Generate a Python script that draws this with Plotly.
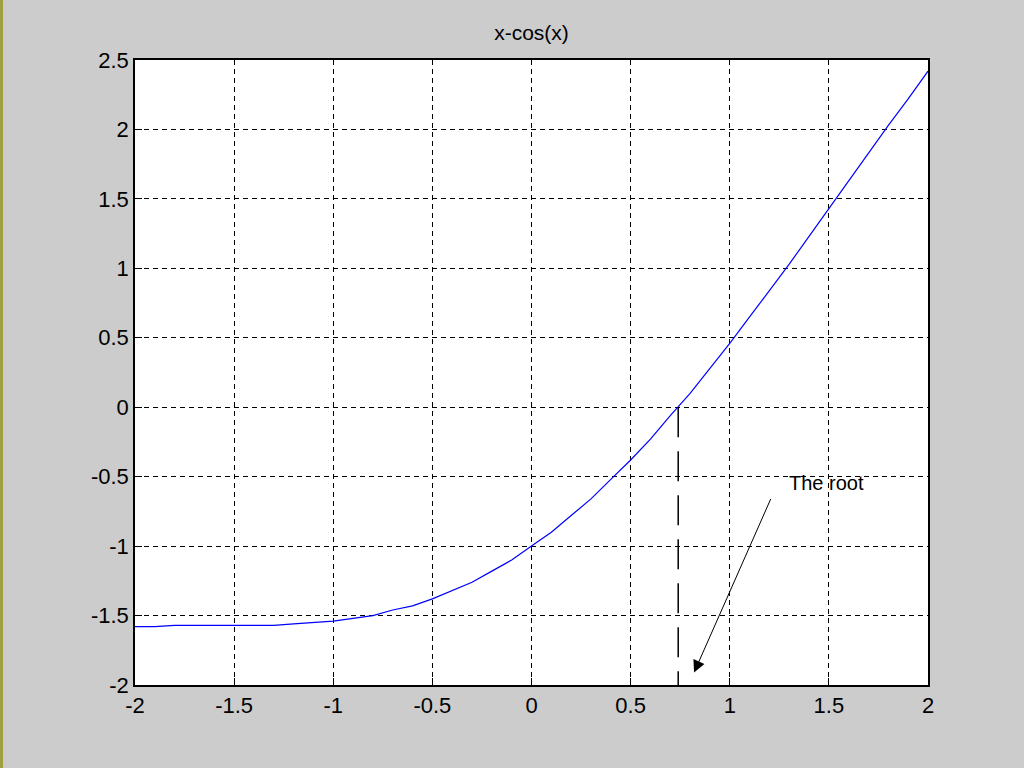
import plotly.graph_objects as go

# Values
x_vals = [-2.0, -1.9, -1.8, -1.7, -1.6, -1.5, -1.4, -1.3, -1.2, -1.1, -1.0,
          -0.9, -0.8, -0.7, -0.6, -0.5, -0.4, -0.3, -0.2, -0.1, 0.0,
          0.1, 0.2, 0.3, 0.4, 0.5, 0.6, 0.7, 0.8, 0.9, 1.0,
          1.1, 1.2, 1.3, 1.4, 1.5, 1.6, 1.7, 1.8, 1.9, 2.0]
y_vals = [-1.58, -1.58, -1.57, -1.57, -1.57, -1.57, -1.57, -1.57, -1.56, -1.55, -1.54,
          -1.52, -1.50, -1.46, -1.43, -1.38, -1.32, -1.26, -1.18, -1.10, -1.00,
          -0.90, -0.78, -0.66, -0.52, -0.38, -0.23, -0.06, 0.10, 0.28, 0.46,
          0.65, 0.84, 1.03, 1.23, 1.43, 1.63, 1.83, 2.03, 2.22, 2.42]

root_x = 0.74
root_line_y = [0.0, -2.0]
arrow_tail = (1.21, -0.65)
arrow_head = (0.82, -1.91)
label_text = "The root"
label_pos = (1.29, -0.545)

x_ticks = [-2, -1.5, -1, -0.5, 0, 0.5, 1, 1.5, 2]
x_ticklabels = ["-2", "-1.5", "-1", "-0.5", "0", "0.5", "1", "1.5", "2"]
y_ticks = [-2, -1.5, -1, -0.5, 0, 0.5, 1, 1.5, 2, 2.5]
y_ticklabels = ["-2", "-1.5", "-1", "-0.5", "0", "0.5", "1", "1.5", "2", "2.5"]

font_family = "Liberation Sans, Arial, sans-serif"

fig = go.Figure()
fig.add_trace(go.Scatter(x=x_vals, y=y_vals, mode="lines",
                         line=dict(color="#0000ff", width=1.2),
                         showlegend=False, hoverinfo="skip"))
fig.add_trace(go.Scatter(x=[root_x, root_x], y=root_line_y, mode="lines",
                         line=dict(color="black", width=1.5, dash="30px,14px"),
                         showlegend=False, hoverinfo="skip"))

fig.add_annotation(x=arrow_head[0], y=arrow_head[1], ax=arrow_tail[0], ay=arrow_tail[1],
                   xref="x", yref="y", axref="x", ayref="y",
                   showarrow=True, arrowhead=2, arrowsize=2.4, arrowwidth=1,
                   arrowcolor="black", text="")
fig.add_annotation(x=label_pos[0], y=label_pos[1], xref="x", yref="y",
                   text=label_text, showarrow=False, xanchor="left", yanchor="middle",
                   font=dict(family=font_family, size=20, color="black"))

# olive strip on the left edge of the slide
fig.add_shape(type="rect", xref="paper", yref="paper",
              x0=-135/793, x1=-132/793, y0=-83/625, y1=(625+60)/625,
              fillcolor="#a0a040", line=dict(width=0), layer="below")

axis_common = dict(showline=True, linecolor="black", linewidth=1.5, mirror=True,
                   ticks="inside", ticklen=7, tickcolor="black",
                   showgrid=True, gridcolor="black", gridwidth=1.2, griddash="5px,4px",
                   zeroline=False,
                   tickfont=dict(family=font_family, size=22, color="black"))

fig.update_xaxes(range=[-2, 2], tickvals=x_ticks, ticktext=x_ticklabels, **axis_common)
fig.update_yaxes(range=[-2, 2.5], tickvals=y_ticks, ticktext=y_ticklabels, **axis_common)

fig.update_layout(
    width=1024, height=768,
    margin=dict(l=135, r=96, t=60, b=83),
    paper_bgcolor="#cccccc", plot_bgcolor="white",
    title=dict(text="x-cos(x)", x=(135 + 928) / 2 / 1024, xanchor="center",
               y=1 - 33 / 768, yanchor="middle",
               font=dict(family=font_family, size=21, color="black")),
)

fig.write_html("out.html",
               config={"displayModeBar": False},
               post_script="document.body.style.margin='0';"
                           "document.body.style.overflow='hidden';"
                           "document.body.style.background='#cccccc';")
